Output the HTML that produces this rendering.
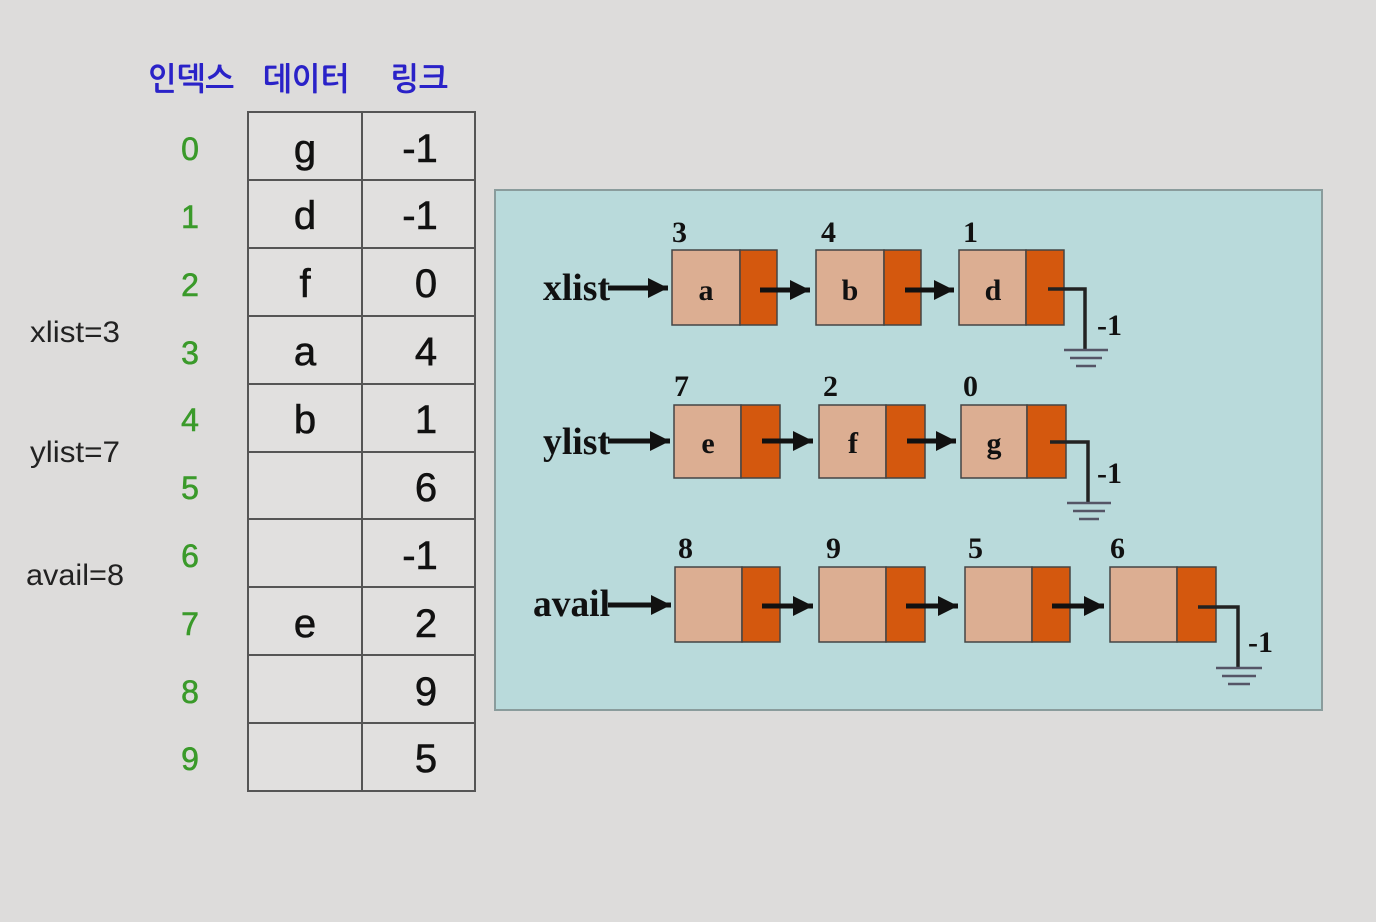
<!DOCTYPE html>
<html><head><meta charset="utf-8"><style>
html,body{margin:0;padding:0;background:#dddcdb;}
svg{display:block}
.h{font-family:"Liberation Sans","NanumGothic","Noto Sans CJK KR",sans-serif;font-weight:bold;fill:#2a22c8;font-size:32px}
.ix{font-family:"Liberation Sans",sans-serif;fill:#3a9a2a;font-size:32px;text-anchor:middle;stroke:#3a9a2a;stroke-width:0.6}
.t{font-family:"Liberation Sans",sans-serif;fill:#111;font-size:40px;text-anchor:middle;stroke:#111;stroke-width:0.6}
.v{font-family:"Liberation Sans",sans-serif;fill:#222;font-size:30px}
.s{font-family:"Liberation Serif",serif;font-weight:bold;fill:#111}
</style></head><body>
<svg width="1376" height="922" viewBox="0 0 1376 922" xmlns="http://www.w3.org/2000/svg">
<defs>
<marker id="a2" viewBox="0 0 10 10" refX="10" refY="5" markerWidth="20" markerHeight="22" markerUnits="userSpaceOnUse" orient="auto"><path d="M0,0 L10,5 L0,10z" fill="#111"/></marker></defs>
<rect width="1376" height="922" fill="#dddcdb"/>
<text class="h" x="148" y="90" textLength="86" lengthAdjust="spacingAndGlyphs">인덱스</text>
<text class="h" x="263" y="90" textLength="86" lengthAdjust="spacingAndGlyphs">데이터</text>
<text class="h" x="390" y="90" textLength="58" lengthAdjust="spacingAndGlyphs">링크</text>
<rect x="248" y="112" width="227" height="679" fill="#e1e0df" stroke="#555" stroke-width="2"/>
<line x1="362" y1="112" x2="362" y2="791" stroke="#555" stroke-width="2"/>
<g stroke="#555" stroke-width="2">
<line x1="248" y1="180" x2="475" y2="180"/><line x1="248" y1="248" x2="475" y2="248"/><line x1="248" y1="316" x2="475" y2="316"/><line x1="248" y1="384" x2="475" y2="384"/><line x1="248" y1="452" x2="475" y2="452"/><line x1="248" y1="519" x2="475" y2="519"/><line x1="248" y1="587" x2="475" y2="587"/><line x1="248" y1="655" x2="475" y2="655"/><line x1="248" y1="723" x2="475" y2="723"/>
</g>
<g class="ix"><text x="190" y="160">0</text><text x="190" y="228">1</text><text x="190" y="296">2</text><text x="190" y="364">3</text><text x="190" y="431">4</text><text x="190" y="499">5</text><text x="190" y="567">6</text><text x="190" y="635">7</text><text x="190" y="703">8</text><text x="190" y="770">9</text></g>
<g class="t"><text x="305" y="162">g</text><text x="305" y="229">d</text><text x="305" y="297">f</text><text x="305" y="365">a</text><text x="305" y="433">b</text><text x="305" y="637">e</text>
<text x="420" y="162">-1</text><text x="420" y="229">-1</text><text x="426" y="297">0</text><text x="426" y="365">4</text><text x="426" y="433">1</text><text x="426" y="501">6</text><text x="420" y="569">-1</text><text x="426" y="637">2</text><text x="426" y="705">9</text><text x="426" y="772">5</text></g>
<g class="v"><text x="30" y="342" textLength="90" lengthAdjust="spacingAndGlyphs">xlist=3</text><text x="30" y="462" textLength="90" lengthAdjust="spacingAndGlyphs">ylist=7</text><text x="26" y="585" textLength="98" lengthAdjust="spacingAndGlyphs">avail=8</text></g>
<rect x="495" y="190" width="827" height="520" fill="#b9dadb" stroke="#8a9c9c" stroke-width="2"/>
<g class="s" font-size="38"><text x="543" y="300" textLength="67" lengthAdjust="spacingAndGlyphs">xlist</text><text x="543" y="454" textLength="67" lengthAdjust="spacingAndGlyphs">ylist</text><text x="533" y="616" textLength="77" lengthAdjust="spacingAndGlyphs">avail</text></g>
<g stroke="#111" stroke-width="5" fill="none">
<line x1="608" y1="288" x2="668" y2="288" marker-end="url(#a2)"/>
<line x1="608" y1="441" x2="670" y2="441" marker-end="url(#a2)"/>
<line x1="608" y1="605" x2="671" y2="605" marker-end="url(#a2)"/>
</g>
<g stroke="#444" stroke-width="1.5">
<rect x="672" y="250" width="68" height="75" fill="#dcae92"/><rect x="740" y="250" width="37" height="75" fill="#d4580e"/>
<rect x="816" y="250" width="68" height="75" fill="#dcae92"/><rect x="884" y="250" width="37" height="75" fill="#d4580e"/>
<rect x="959" y="250" width="67" height="75" fill="#dcae92"/><rect x="1026" y="250" width="38" height="75" fill="#d4580e"/>
<rect x="674" y="405" width="67" height="73" fill="#dcae92"/><rect x="741" y="405" width="39" height="73" fill="#d4580e"/>
<rect x="819" y="405" width="67" height="73" fill="#dcae92"/><rect x="886" y="405" width="39" height="73" fill="#d4580e"/>
<rect x="961" y="405" width="66" height="73" fill="#dcae92"/><rect x="1027" y="405" width="39" height="73" fill="#d4580e"/>
<rect x="675" y="567" width="67" height="75" fill="#dcae92"/><rect x="742" y="567" width="38" height="75" fill="#d4580e"/>
<rect x="819" y="567" width="67" height="75" fill="#dcae92"/><rect x="886" y="567" width="39" height="75" fill="#d4580e"/>
<rect x="965" y="567" width="67" height="75" fill="#dcae92"/><rect x="1032" y="567" width="38" height="75" fill="#d4580e"/>
<rect x="1110" y="567" width="67" height="75" fill="#dcae92"/><rect x="1177" y="567" width="39" height="75" fill="#d4580e"/>
</g>
<g class="s" font-size="30" text-anchor="middle"><text x="706" y="300">a</text><text x="850" y="300">b</text><text x="993" y="300">d</text>
<text x="708" y="453">e</text><text x="853" y="453">f</text><text x="994" y="453">g</text></g>
<g class="s" font-size="30"><text x="672" y="242">3</text><text x="821" y="242">4</text><text x="963" y="242">1</text>
<text x="674" y="396">7</text><text x="823" y="396">2</text><text x="963" y="396">0</text>
<text x="678" y="558">8</text><text x="826" y="558">9</text><text x="968" y="558">5</text><text x="1110" y="558">6</text></g>
<g stroke="#111" stroke-width="5" fill="none">
<line x1="760" y1="290" x2="810" y2="290" marker-end="url(#a2)"/>
<line x1="905" y1="290" x2="954" y2="290" marker-end="url(#a2)"/>
<line x1="762" y1="441" x2="813" y2="441" marker-end="url(#a2)"/>
<line x1="907" y1="441" x2="956" y2="441" marker-end="url(#a2)"/>
<line x1="762" y1="606" x2="813" y2="606" marker-end="url(#a2)"/>
<line x1="906" y1="606" x2="958" y2="606" marker-end="url(#a2)"/>
<line x1="1052" y1="606" x2="1104" y2="606" marker-end="url(#a2)"/>
</g>
<g stroke="#222" fill="none">
<path d="M1048,289 H1085 V350" stroke-width="3.5"/>
<path d="M1050,442 H1088 V503" stroke-width="3.5"/>
<path d="M1198,607 H1238 V668" stroke-width="3.5"/>
<g stroke="#556" stroke-width="2.5">
<line x1="1064" y1="350" x2="1108" y2="350"/><line x1="1070" y1="358" x2="1102" y2="358"/><line x1="1076" y1="366" x2="1096" y2="366"/>
<line x1="1067" y1="503" x2="1111" y2="503"/><line x1="1073" y1="511" x2="1105" y2="511"/><line x1="1079" y1="519" x2="1099" y2="519"/>
<line x1="1216" y1="668" x2="1262" y2="668"/><line x1="1222" y1="676" x2="1256" y2="676"/><line x1="1228" y1="684" x2="1250" y2="684"/>
</g></g>
<g class="s" font-size="30"><text x="1097" y="335">-1</text><text x="1097" y="483">-1</text><text x="1248" y="652">-1</text></g>
</svg>
</body></html>
